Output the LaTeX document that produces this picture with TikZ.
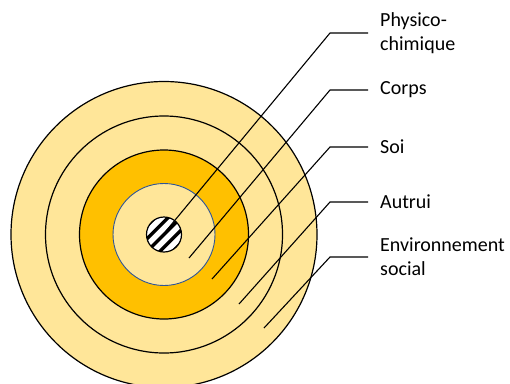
\documentclass[tikz,border=0pt]{standalone}
\usepackage{fontspec}
\setmainfont{Carlito}
\usetikzlibrary{calc}
\definecolor{ringlight}{HTML}{FFE699}
\definecolor{ringgold}{HTML}{FFC000}
\definecolor{ringblue}{HTML}{2F5597}
\tikzset{
  ring/.style={circle, draw=black, line width=1.2pt, inner sep=0pt},
  lbl/.style={anchor=west, align=left, inner sep=0pt, inner xsep=12pt,
    font=\fontsize{20}{24}\selectfont},
  leader/.style={draw=black, line width=1.1pt}
}
\begin{document}
\begin{tikzpicture}[x=1pt, y=-1pt]
  \useasboundingbox (0,0) rectangle (510,383);
  \begin{scope}
    \clip (0,0) rectangle (510,383);
    % nested rings, from the outside in
    \node[ring, fill=ringlight, minimum size=306pt] (env) at (164,234.5) {};
    \node[ring, fill=ringlight, minimum size=237pt] (autrui) at (164,234.5) {};
    \node[ring, fill=ringgold, minimum size=169pt] (soi) at (164,234.5) {};
    \node[circle, draw=ringblue, line width=0.9pt, fill=ringlight,
      inner sep=0pt, minimum size=102pt] (corps) at (164,234.5) {};
    % hatched core
    \node[circle, fill=white, inner sep=0pt, minimum size=35pt] (core) at (164,234.5) {};
    \begin{scope}
      \clip (164,234.5) circle (17.5pt);
      \foreach \k in {-4,...,4}
        \draw[line width=3.3pt] ($(164,234.5)+(\k*6.4,\k*6.4)+(-30,30)$) -- ++(60,-60);
    \end{scope}
    \draw[line width=1.2pt] (164,234.5) circle (17.5pt);
  \end{scope}

  % labels
  \node[lbl] (l1) at (368,33) {Physico-\\chimique};
  \node[lbl] (l2) at (368,90) {Corps};
  \node[lbl] (l3) at (368,147) {Soi};
  \node[lbl] (l4) at (368,202) {Autrui};
  \node[lbl] (l5) at (368,257) {Environnement\\social};

  % leader start points inside each layer
  \coordinate (p1) at (166,231);
  \coordinate (p2) at (189,258);
  \coordinate (p3) at (212,279);
  \coordinate (p4) at (239,304);
  \coordinate (p5) at (264,328);

  \foreach \i in {1,...,5}
    \draw[leader] (p\i) -- ($(l\i.west)+(-38,0)$) -- (l\i.west);
\end{tikzpicture}
\end{document}
